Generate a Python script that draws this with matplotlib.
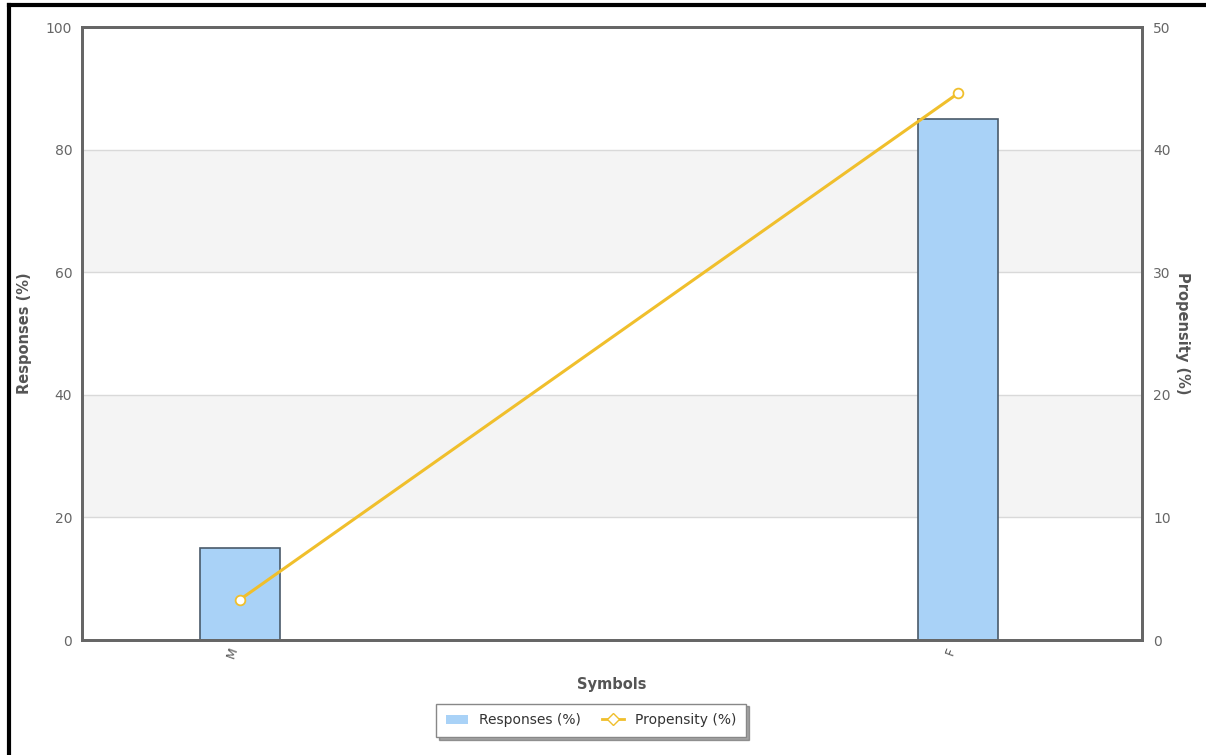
import matplotlib
matplotlib.use("Agg")
import matplotlib.pyplot as plt
from matplotlib.lines import Line2D
from matplotlib.patches import Patch

# ── data ──
categories = ["M", "F"]
responses = [15, 85]        # left axis, %
propensity = [3.3, 44.6]    # right axis, %

BAR_COLOR = "#a9d2f7"
LINE_COLOR = "#f0bf2c"
TEXT_COLOR = "#555555"

plt.rcParams["font.family"] = ["DejaVu Sans"]

fig = plt.figure(figsize=(12.06, 7.55), dpi=100)
ax = fig.add_axes([0.068, 0.1523, 0.879, 0.8119])

x = list(range(len(categories)))
ax.set_xlim(-0.22, 1.256)
ax.set_ylim(0, 100)

# alternating bands + grid
for lo, hi in [(20, 40), (60, 80)]:
    ax.axhspan(lo, hi, color="#f4f4f4", zorder=0, lw=0)
ax.set_yticks([0, 20, 40, 60, 80, 100])
ax.grid(axis="y", color="#d9d9d9", lw=1, zorder=0.5)

ax.bar(x, responses, width=0.111, color=BAR_COLOR, edgecolor="#4a5a6a",
       lw=1.2, zorder=2)

ax.set_xticks(x)
ax.set_xticklabels(categories, rotation=70, ha="right", fontsize=9,
                   color=TEXT_COLOR)
ax.tick_params(axis="x", length=0, pad=4)
ax.tick_params(axis="y", length=0, pad=7, labelsize=10, labelcolor="#666666")
ax.set_xlabel("Symbols", fontsize=10.5, fontweight="bold", color=TEXT_COLOR,
              labelpad=12)
ax.set_ylabel("Responses (%)", fontsize=10.5, fontweight="bold",
              color=TEXT_COLOR, labelpad=10)

for s in ax.spines.values():
    s.set_color("#666666")
    s.set_linewidth(2)

ax2 = ax.twinx()
ax2.set_ylim(0, 50)
ax2.set_yticks([0, 10, 20, 30, 40, 50])
ax2.plot(x, propensity, color=LINE_COLOR, lw=2.2, marker="o", ms=7,
         mfc="white", mec=LINE_COLOR, mew=1.3, zorder=3)
ax2.tick_params(axis="y", length=0, pad=8, labelsize=10, labelcolor="#666666")
ax2.set_ylabel("Propensity (%)", fontsize=10.5, fontweight="bold",
               color=TEXT_COLOR, rotation=-90, labelpad=14)
for s in ax2.spines.values():
    s.set_color("#666666")
    s.set_linewidth(2)

handles = [
    Patch(facecolor=BAR_COLOR, edgecolor="none", label="Responses (%)"),
    Line2D([0], [0], color=LINE_COLOR, lw=2, marker="D", ms=6, mfc="white",
           mec=LINE_COLOR, label="Propensity (%)"),
]
leg = fig.legend(handles=handles, loc="center", bbox_to_anchor=(0.49, 0.046),
                 ncol=2, fontsize=10, frameon=True, fancybox=False, shadow=True,
                 handlelength=1.6, columnspacing=1.5, borderpad=0.7)
leg.get_frame().set_edgecolor("#888888")
for t in leg.get_texts():
    t.set_color("#333333")

# black frame on left and top of the screenshot
fig.add_artist(Line2D([0.0075, 0.0075], [0, 0.993], color="black", lw=3,
                      transform=fig.transFigure))
fig.add_artist(Line2D([0.0075, 1.0], [0.993, 0.993], color="black", lw=3,
                      transform=fig.transFigure))

fig.savefig("out.png", dpi=100)
